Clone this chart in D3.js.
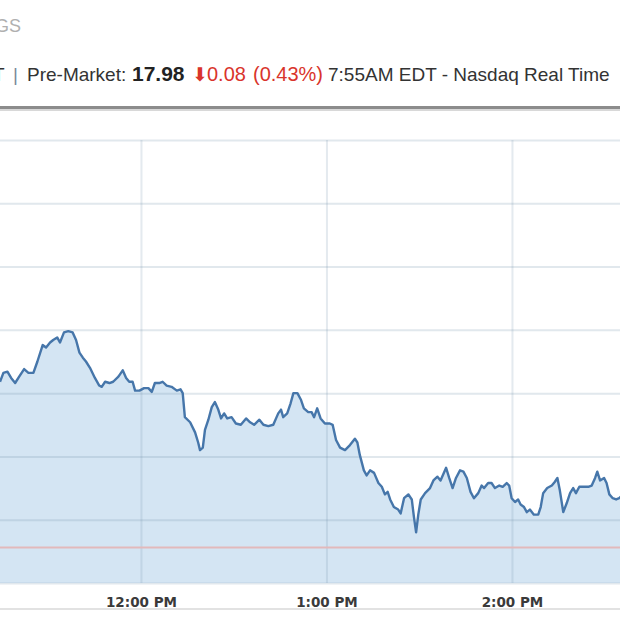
<!DOCTYPE html>
<html>
<head>
<meta charset="utf-8">
<script src="https://cdn.jsdelivr.net/npm/d3@7"></script>
<style>
  body { margin: 0; background: #fff; }
  svg { display: block; }
</style>
</head>
<body>
<svg></svg>
<script>
"use strict"

// intraday trade times, minutes after midnight
const times = [674.4, 675.5, 676.8, 678.0, 679.3, 680.6, 682.2, 683.6, 685.2, 686.5,
  688.2, 689.3, 690.6, 691.6, 692.9, 693.8, 695.1, 696.5, 697.9, 699.0,
  700.1, 701.2, 702.2, 703.5, 705.1, 706.5, 707.3, 708.4, 709.8, 711.0,
  712.7, 714.1, 715.2, 716.2, 717.3, 718.1, 719.5, 721.0, 722.4, 723.5,
  724.5, 725.9, 727.0, 728.3, 729.9, 731.6, 732.8, 733.5, 734.2, 735.9,
  737.5, 738.5, 739.1, 740.0, 740.7, 741.8, 742.9, 743.9, 745.0, 745.9,
  746.9, 747.9, 749.3, 750.7, 752.3, 754.0, 755.3, 756.6, 758.3, 759.6,
  761.2, 762.8, 764.4, 765.3, 766.0, 767.3, 768.4, 769.3, 770.6, 771.7,
  772.7, 774.1, 775.2, 776.0, 777.0, 778.1, 779.5, 781.1, 782.0, 783.1,
  784.4, 786.0, 787.6, 789.2, 790.0, 790.8, 792.1, 793.0, 794.1, 795.4,
  796.8, 797.9, 798.9, 799.8, 800.6, 801.8, 803.2, 804.0, 805.1, 806.5,
  807.6, 808.3, 809.0, 809.7, 810.5, 811.9, 813.5, 814.6, 815.9, 816.9,
  818.7, 819.7, 820.8, 821.9, 823.2, 824.3, 825.4, 826.6, 827.7, 829.1,
  830.2, 831.0, 832.3, 833.4, 834.5, 835.9, 837.0, 838.3, 839.1, 839.9,
  841.0, 842.0, 842.8, 843.9, 844.8, 845.8, 847.1, 848.5, 849.3, 850.1,
  851.4, 852.9, 853.9, 854.7, 855.5, 856.6, 857.7, 858.8, 859.8, 860.7,
  861.8, 863.3, 864.7, 865.8, 866.9, 867.6, 868.5, 869.8, 870.6, 871.5,
  872.6, 873.7, 874.7, 875.6]

const prices = [18.059, 18.066, 18.067, 18.062, 18.058, 18.063, 18.069, 18.066, 18.066, 18.075,
  18.088, 18.086, 18.090, 18.092, 18.094, 18.090, 18.098, 18.099, 18.098, 18.092,
  18.082, 18.078, 18.075, 18.070, 18.062, 18.056, 18.055, 18.059, 18.058, 18.059,
  18.063, 18.068, 18.062, 18.059, 18.059, 18.052, 18.052, 18.054, 18.054, 18.051,
  18.058, 18.058, 18.059, 18.056, 18.055, 18.052, 18.053, 18.050, 18.031, 18.027,
  18.019, 18.011, 18.005, 18.007, 18.021, 18.029, 18.039, 18.043, 18.037, 18.030,
  18.034, 18.030, 18.031, 18.026, 18.025, 18.030, 18.027, 18.025, 18.029, 18.025,
  18.024, 18.025, 18.034, 18.037, 18.031, 18.034, 18.042, 18.050, 18.050, 18.045,
  18.038, 18.035, 18.035, 18.031, 18.038, 18.030, 18.026, 18.026, 18.025, 18.013,
  18.007, 18.005, 18.009, 18.014, 18.011, 18.001, 17.989, 17.985, 17.989, 17.987,
  17.979, 17.976, 17.970, 17.972, 17.966, 17.960, 17.958, 17.955, 17.967, 17.970,
  17.966, 17.952, 17.940, 17.954, 17.966, 17.971, 17.975, 17.981, 17.984, 17.981,
  17.991, 17.983, 17.975, 17.983, 17.989, 17.988, 17.983, 17.972, 17.967, 17.971,
  17.977, 17.975, 17.979, 17.979, 17.975, 17.977, 17.976, 17.979, 17.977, 17.967,
  17.964, 17.966, 17.962, 17.960, 17.956, 17.958, 17.954, 17.954, 17.960, 17.971,
  17.975, 17.977, 17.980, 17.983, 17.973, 17.956, 17.963, 17.971, 17.975, 17.971,
  17.976, 17.976, 17.976, 17.977, 17.983, 17.988, 17.981, 17.983, 17.979, 17.970,
  17.967, 17.966, 17.967, 17.969]

const hourTicks = [720, 780, 840]          // 12, 1, 2 PM
const priceTicks = [17.90, 17.95, 18.00, 18.05, 18.10, 18.15, 18.20, 18.25]
const prevClose = 17.928
const viewStart = 674.4, viewEnd = 874.95  // visible window, minutes

let width = 620, height = 620
let svg = d3.select("svg").attr("width", width).attr("height", height)

let toDate = m => new Date(2013, 4, 20, 0, 0, Math.round(m * 60))
let data = times.map((t, i) => ({date: toDate(t), price: prices[i]}))

let plotTop = 140, plotBottom = 583

let x = d3.scaleTime()
  .domain([toDate(viewStart), toDate(viewEnd)])
  .range([0, width])
let y = d3.scaleLinear()
  .domain([d3.min(priceTicks), d3.max(priceTicks)])
  .range([plotBottom, plotTop])

/* header (cropped at the left edge like the screenshot) */
let head = svg.append("g").attr("font-family", "'Liberation Sans', Arial, sans-serif")
head.append("text").attr("x", -5).attr("y", 32)
  .attr("font-size", 18).attr("fill", "#b0b0b0").text("GS")

let line1 = [
  {t: "T", x: -7, size: 19, w: "normal", c: "#333", f: null},
  {t: "|", x: 13, size: 19, w: "normal", c: "#7a8a9a", f: null},
  {t: "Pre-Market:", x: 27, size: 19, w: "normal", c: "#333", f: null},
  {t: "17.98", x: 132, size: 21, w: "bold", c: "#222", f: null},
  {t: "\u2B07", x: 192, size: 19, w: "normal", c: "#d9342b", f: "'DejaVu Sans', sans-serif"},
  {t: "0.08", x: 207, size: 20, w: "normal", c: "#d9342b", f: null},
  {t: "(0.43%)", x: 253, size: 20, w: "normal", c: "#d9342b", f: null},
  {t: "7:55AM EDT - Nasdaq Real Time", x: 328, size: 19, w: "normal", c: "#333", f: null}
]
head.selectAll(".hdr").data(line1).enter()
  .append("text")
  .attr("class", "hdr")
  .attr("x", d => d.x).attr("y", 81)
  .attr("font-size", d => d.size)
  .attr("font-weight", d => d.w)
  .attr("font-family", d => d.f)
  .attr("fill", d => d.c)
  .text(d => d.t)

svg.append("rect").attr("x", 0).attr("y", 106).attr("width", width).attr("height", 3).attr("fill", "#8c8c8c")
svg.append("rect").attr("x", 0).attr("y", 109).attr("width", width).attr("height", 2).attr("fill", "#d8d8d8")

/* area + line */
let area = d3.area()
  .x(d => x(d.date))
  .y0(y(d3.min(priceTicks)))
  .y1(d => y(d.price))
let path = d3.line()
  .x(d => x(d.date))
  .y(d => y(d.price))

svg.append("path")
  .datum(data)
  .attr("d", area)
  .attr("fill", "#d4e5f3")

/* grid drawn over the fill so it shows through */
let grid = svg.append("g").attr("class", "grid")
grid.append("g")
  .call(d3.axisLeft(y).tickValues(priceTicks).tickSize(-width).tickFormat(""))
  .call(g => g.select(".domain").remove())
  .call(g => g.selectAll("line").attr("stroke", "rgba(120,150,175,0.22)").attr("stroke-width", 2))
grid.append("g")
  .attr("transform", "translate(0," + plotBottom + ")")
  .call(d3.axisBottom(x).tickValues(hourTicks.map(toDate)).tickSize(-(plotBottom - plotTop)).tickFormat(""))
  .call(g => g.select(".domain").remove())
  .call(g => g.selectAll("line").attr("stroke", "rgba(120,150,175,0.2)").attr("stroke-width", 2))

svg.append("line")
  .attr("x1", 0).attr("x2", width)
  .attr("y1", y(prevClose)).attr("y2", y(prevClose))
  .attr("stroke", "#e2b9bb").attr("stroke-width", 2)

svg.append("path")
  .datum(data)
  .attr("d", path)
  .attr("fill", "none")
  .attr("stroke", "#4676aa")
  .attr("stroke-width", 2.4)
  .attr("stroke-linejoin", "round")

/* time labels */
svg.append("g")
  .attr("transform", "translate(0," + plotBottom + ")")
  .call(d3.axisBottom(x).tickValues(hourTicks.map(toDate)).tickSize(0).tickPadding(14)
    .tickFormat(d3.timeFormat("%-I:%M %p")))
  .call(g => g.select(".domain").remove())
  .call(g => g.selectAll("text")
    .attr("font-family", "'DejaVu Sans', Verdana, sans-serif")
    .attr("font-size", 13.5)
    .attr("font-weight", "bold")
    .attr("fill", "#3a3a3a"))

svg.append("rect").attr("x", 0).attr("y", 608).attr("width", width).attr("height", 2).attr("fill", "#e2e2e2")
</script>
</body>
</html>
